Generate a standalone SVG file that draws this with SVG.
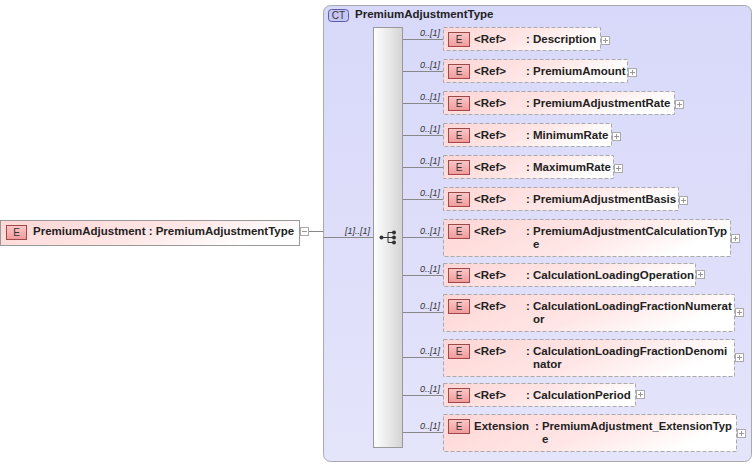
<svg xmlns="http://www.w3.org/2000/svg" width="756" height="465" viewBox="0 0 756 465">
<defs>
<linearGradient id="pink" x1="0" y1="0" x2="1" y2="0.3">
<stop offset="0" stop-color="#ffd6d6"/>
<stop offset="0.6" stop-color="#ffe6e6"/>
<stop offset="1" stop-color="#ffffff"/>
</linearGradient>
<linearGradient id="badge" x1="0" y1="0" x2="0" y2="1">
<stop offset="0" stop-color="#fbc8c8"/>
<stop offset="1" stop-color="#f09a9a"/>
</linearGradient>
<linearGradient id="seq" x1="0" y1="0" x2="1" y2="0">
<stop offset="0" stop-color="#ffffff"/>
<stop offset="1" stop-color="#d4d4d4"/>
</linearGradient>
<linearGradient id="ct" x1="0" y1="0" x2="0" y2="1">
<stop offset="0" stop-color="#d8d8fa"/>
<stop offset="1" stop-color="#e4e4fb"/>
</linearGradient>
</defs>
<style>
text{font-family:"Liberation Sans",Arial,sans-serif;}
.t{font-size:11.5px;font-weight:bold;fill:#222;}
.e{font-size:10px;fill:#333;}
.m{font-size:9px;font-style:italic;fill:#333;}
.box{fill:url(#pink);stroke:#aaa;stroke-width:1;stroke-dasharray:4,2;}
.mbox{fill:url(#pink);stroke:#999;stroke-width:1;}
.bd{fill:url(#badge);stroke:#a04848;stroke-width:1;}
.pl{fill:#fff;stroke:#aaa;stroke-width:1;}
.pm{stroke:#999;stroke-width:1;fill:none;}
.ln{stroke:#888;stroke-width:1;fill:none;}
</style>
<g id="container">
<rect x="323.5" y="5.5" width="428" height="456" rx="7" fill="url(#ct)" stroke="#aaa"/>
<rect x="328.5" y="9.5" width="20" height="12" rx="3" fill="#c6c6f4" stroke="#5c5ca8"/>
<text x="338.5" y="19" class="e" text-anchor="middle">CT</text>
<text x="355" y="18" class="t">PremiumAdjustmentType</text>
</g>
<g id="connectors">
<path class="ln" d="M308,231.5H323.5"/>
<path class="ln" d="M323.5,237.5H373"/>
<text x="370" y="234" class="m" text-anchor="end">[1]..[1]</text>
<path class="ln" d="M403,39.5H443M403,71.5H443M403,103.5H443M403,135.5H443M403,167.5H443M403,199.5H443M403,237.5H443M403,275.5H443M403,312.5H443M403,357.5H443M403,395.5H443M403,432.5H443"/>
<text x="440" y="36" class="m" text-anchor="end">0..[1]</text>
<text x="440" y="68" class="m" text-anchor="end">0..[1]</text>
<text x="440" y="100" class="m" text-anchor="end">0..[1]</text>
<text x="440" y="132" class="m" text-anchor="end">0..[1]</text>
<text x="440" y="164" class="m" text-anchor="end">0..[1]</text>
<text x="440" y="196" class="m" text-anchor="end">0..[1]</text>
<text x="440" y="234" class="m" text-anchor="end">0..[1]</text>
<text x="440" y="272" class="m" text-anchor="end">0..[1]</text>
<text x="440" y="309" class="m" text-anchor="end">0..[1]</text>
<text x="440" y="354" class="m" text-anchor="end">0..[1]</text>
<text x="440" y="392" class="m" text-anchor="end">0..[1]</text>
<text x="440" y="429" class="m" text-anchor="end">0..[1]</text>
</g>
<g id="sequence">
<rect x="373.5" y="27.5" width="29" height="420" fill="url(#seq)" stroke="#999"/>
<path d="M381,237.5H388M388,232.5V242.5M388,232.5H393M388,242.5H393M388,237.5H393" stroke="#333" stroke-width="1" fill="none"/>
<circle cx="381.5" cy="237.5" r="2" fill="#333"/>
<circle cx="394" cy="232.5" r="2" fill="#333"/>
<circle cx="394" cy="237.5" r="2" fill="#333"/>
<circle cx="394" cy="242.5" r="2" fill="#333"/>
</g>
<g id="PremiumAdjustment">
<rect x="0.5" y="220.5" width="299" height="25" class="mbox"/>
<rect x="6.5" y="225.5" width="20" height="14" class="bd"/>
<text x="16.5" y="236" class="e" text-anchor="middle">E</text>
<text x="33" y="235" class="t">PremiumAdjustment : PremiumAdjustmentType</text>
<rect x="300.5" y="227.5" width="8" height="8" class="pl"/>
<path class="pm" d="M302,231.5H307"/>
</g>
<g id="Description">
<rect x="443.5" y="27.5" width="157" height="23" class="box"/>
<rect x="448.5" y="32.5" width="21" height="14" class="bd"/><text x="459" y="43" class="e" text-anchor="middle">E</text>
<text x="474" y="43" class="t">&lt;Ref&gt;</text><text x="526" y="43" class="t">: Description</text>
<rect x="601.5" y="36.5" width="8" height="8" class="pl"/><path class="pm" d="M603,40.5H608M605.5,38V43"/>
</g>
<g id="PremiumAmount">
<rect x="443.5" y="59.5" width="184" height="23" class="box"/>
<rect x="448.5" y="64.5" width="21" height="14" class="bd"/><text x="459" y="75" class="e" text-anchor="middle">E</text>
<text x="474" y="75" class="t">&lt;Ref&gt;</text><text x="526" y="75" class="t">: PremiumAmount</text>
<rect x="628.5" y="68.5" width="8" height="8" class="pl"/><path class="pm" d="M630,72.5H635M632.5,70V75"/>
</g>
<g id="PremiumAdjustmentRate">
<rect x="443.5" y="91.5" width="231" height="23" class="box"/>
<rect x="448.5" y="96.5" width="21" height="14" class="bd"/><text x="459" y="107" class="e" text-anchor="middle">E</text>
<text x="474" y="107" class="t">&lt;Ref&gt;</text><text x="526" y="107" class="t">: PremiumAdjustmentRate</text>
<rect x="675.5" y="100.5" width="8" height="8" class="pl"/><path class="pm" d="M677,104.5H682M679.5,102V107"/>
</g>
<g id="MinimumRate">
<rect x="443.5" y="123.5" width="168" height="23" class="box"/>
<rect x="448.5" y="128.5" width="21" height="14" class="bd"/><text x="459" y="139" class="e" text-anchor="middle">E</text>
<text x="474" y="139" class="t">&lt;Ref&gt;</text><text x="526" y="139" class="t">: MinimumRate</text>
<rect x="612.5" y="132.5" width="8" height="8" class="pl"/><path class="pm" d="M614,136.5H619M616.5,134V139"/>
</g>
<g id="MaximumRate">
<rect x="443.5" y="155.5" width="170" height="23" class="box"/>
<rect x="448.5" y="160.5" width="21" height="14" class="bd"/><text x="459" y="171" class="e" text-anchor="middle">E</text>
<text x="474" y="171" class="t">&lt;Ref&gt;</text><text x="526" y="171" class="t">: MaximumRate</text>
<rect x="614.5" y="164.5" width="8" height="8" class="pl"/><path class="pm" d="M616,168.5H621M618.5,166V171"/>
</g>
<g id="PremiumAdjustmentBasis">
<rect x="443.5" y="187.5" width="235" height="23" class="box"/>
<rect x="448.5" y="192.5" width="21" height="14" class="bd"/><text x="459" y="203" class="e" text-anchor="middle">E</text>
<text x="474" y="203" class="t">&lt;Ref&gt;</text><text x="526" y="203" class="t">: PremiumAdjustmentBasis</text>
<rect x="679.5" y="196.5" width="8" height="8" class="pl"/><path class="pm" d="M681,200.5H686M683.5,198V203"/>
</g>
<g id="PremiumAdjustmentCalculationType">
<rect x="443.5" y="219.5" width="287" height="37" class="box"/>
<rect x="448.5" y="224.5" width="21" height="14" class="bd"/><text x="459" y="235" class="e" text-anchor="middle">E</text>
<text x="474" y="235" class="t">&lt;Ref&gt;</text><text x="526" y="235" class="t">: PremiumAdjustmentCalculationTyp</text>
<text x="533" y="248" class="t">e</text>
<rect x="731.5" y="234.5" width="8" height="8" class="pl"/><path class="pm" d="M733,238.5H738M735.5,236V241"/>
</g>
<g id="CalculationLoadingOperation">
<rect x="443.5" y="263.5" width="252" height="23" class="box"/>
<rect x="448.5" y="268.5" width="21" height="14" class="bd"/><text x="459" y="279" class="e" text-anchor="middle">E</text>
<text x="474" y="279" class="t">&lt;Ref&gt;</text><text x="526" y="279" class="t">: CalculationLoadingOperation</text>
<rect x="696.5" y="270.5" width="8" height="8" class="pl"/><path class="pm" d="M698,274.5H703M700.5,272V277"/>
</g>
<g id="CalculationLoadingFractionNumerator">
<rect x="443.5" y="294.5" width="291" height="37" class="box"/>
<rect x="448.5" y="299.5" width="21" height="14" class="bd"/><text x="459" y="310" class="e" text-anchor="middle">E</text>
<text x="474" y="310" class="t">&lt;Ref&gt;</text><text x="526" y="310" class="t">: CalculationLoadingFractionNumerat</text>
<text x="533" y="323" class="t">or</text>
<rect x="735.5" y="308.5" width="8" height="8" class="pl"/><path class="pm" d="M737,312.5H742M739.5,310V315"/>
</g>
<g id="CalculationLoadingFractionDenominator">
<rect x="443.5" y="339.5" width="291" height="37" class="box"/>
<rect x="448.5" y="344.5" width="21" height="14" class="bd"/><text x="459" y="355" class="e" text-anchor="middle">E</text>
<text x="474" y="355" class="t">&lt;Ref&gt;</text><text x="526" y="355" class="t">: CalculationLoadingFractionDenomi</text>
<text x="533" y="368" class="t">nator</text>
<rect x="735.5" y="353.5" width="8" height="8" class="pl"/><path class="pm" d="M737,357.5H742M739.5,355V360"/>
</g>
<g id="CalculationPeriod">
<rect x="443.5" y="383.5" width="192" height="23" class="box"/>
<rect x="448.5" y="388.5" width="21" height="14" class="bd"/><text x="459" y="399" class="e" text-anchor="middle">E</text>
<text x="474" y="399" class="t">&lt;Ref&gt;</text><text x="526" y="399" class="t">: CalculationPeriod</text>
<rect x="636.5" y="390.5" width="8" height="8" class="pl"/><path class="pm" d="M638,394.5H643M640.5,392V397"/>
</g>
<g id="Extension">
<rect x="443.5" y="414.5" width="293" height="37" class="box"/>
<rect x="448.5" y="419.5" width="21" height="14" class="bd"/><text x="459" y="430" class="e" text-anchor="middle">E</text>
<text x="474" y="430" class="t">Extension</text><text x="535" y="430" class="t" textLength="197" lengthAdjust="spacingAndGlyphs">: PremiumAdjustment_ExtensionTyp</text>
<text x="542" y="443" class="t">e</text>
<rect x="737.5" y="429.5" width="8" height="8" class="pl"/><path class="pm" d="M739,433.5H744M741.5,431V436"/>
</g>
</svg>
